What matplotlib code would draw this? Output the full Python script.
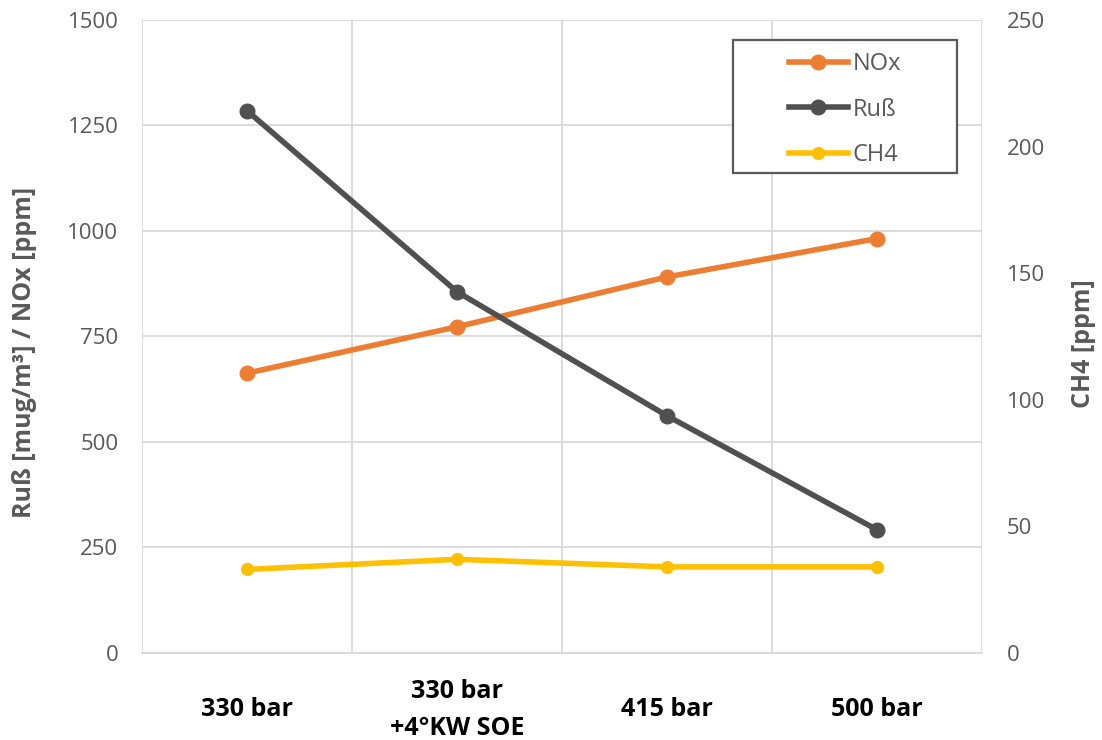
import numpy as np
import matplotlib.pyplot as plt
from matplotlib.patches import Rectangle

categories = ["330 bar", "330 bar\n+4°KW SOE", "415 bar", "500 bar"]
nox = [663, 773, 891, 982]
russ = [1285, 856, 562, 292]
ch4 = [33, 37, 34, 34]

plt.rcParams['font.family'] = ['Open Sans', 'DejaVu Sans']
grey = '#595959'
gridc = '#d9d9d9'

fig = plt.figure(figsize=(11.02, 7.4), dpi=100)
ax = fig.add_axes([0.1289, 0.1176, 0.7622, 0.8554])
ax2 = ax.twinx()

x = np.arange(len(categories))
l1, = ax.plot(x, nox, color='#ED7D31', lw=4, marker='o', ms=10.5, label='NOx', zorder=3)
l2, = ax.plot(x, russ, color='#505050', lw=4, marker='o', ms=10.5, label='Ruß', zorder=3)
l3, = ax2.plot(x, ch4, color='#FFC000', lw=4, marker='o', ms=8.5, label='CH4', zorder=3)

ax.set_xlim(-0.5, 3.5)
ax.set_ylim(0, 1500)
ax2.set_ylim(0, 250)
ax.set_yticks(np.arange(0, 1501, 250))
ax2.set_yticks(np.arange(0, 251, 50))

ax.set_xticks(x)
ax.set_xticklabels(categories, fontsize=18, fontweight='bold', color='black',
                   linespacing=1.6)
for t in ax.get_xticklabels():
    t.set_verticalalignment('center')
ax.set_xticks(np.arange(-0.5, 3.6, 1), minor=True)
ax.grid(True, axis='y', color=gridc, lw=1.3)
ax.grid(True, axis='x', which='minor', color=gridc, lw=1.3)
ax.tick_params(axis='x', which='both', length=0, pad=41)
ax.tick_params(axis='y', length=0, labelsize=16, colors=grey, pad=17)
ax2.tick_params(axis='y', length=0, labelsize=16, colors=grey, pad=18)

for a in (ax, ax2):
    for s in a.spines.values():
        s.set_visible(False)
ax.spines['bottom'].set_visible(True)
ax.spines['bottom'].set_color(gridc)
ax.spines['bottom'].set_linewidth(1.3)

ax.set_ylabel('Ruß [mug/m³] / NOx [ppm]', fontsize=18, fontweight='bold', color=grey)
ax2.set_ylabel('CH4 [ppm]', fontsize=18, fontweight='bold', color=grey)
ax.yaxis.set_label_coords(-0.125, 0.4755)
ax2.yaxis.set_label_coords(1.106, 0.488)

# legend box
bx, by, bw, bh = 0.7036, 0.7583, 0.2667, 0.2101
ax2.add_patch(Rectangle((bx, by), bw, bh, transform=ax2.transAxes, facecolor='white',
                        edgecolor=grey, lw=1.6, zorder=5))
leg = ax2.legend(handles=[l1, l2, l3], loc='center',
                 bbox_to_anchor=(bx + bw / 2, by + bh / 2 - 0.005),
                 fontsize=17, frameon=False, handlelength=2.5, labelspacing=0.9,
                 handletextpad=0.2, borderaxespad=0, borderpad=0)
for t in leg.get_texts():
    t.set_color(grey)
leg.set_zorder(6)

fig.savefig('out.png', dpi=100)
